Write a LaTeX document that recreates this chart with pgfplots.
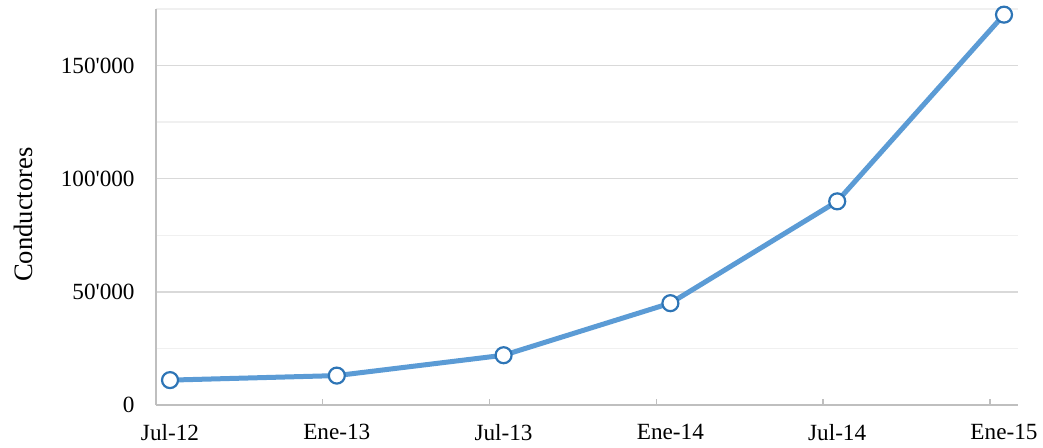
\documentclass[border=0pt]{standalone}
\usepackage{fontspec}
\setmainfont{Liberation Serif}
\usepackage{pgfplots}
\pgfplotsset{compat=1.18}

\definecolor{lineblue}{HTML}{5B9BD5}
\definecolor{markblue}{HTML}{2E75B6}
\definecolor{axisgray}{HTML}{BFBFBF}
\definecolor{majorgrid}{HTML}{D9D9D9}
\definecolor{minorgrid}{HTML}{F0F0F0}

\newcommand{\chartfont}{\fontsize{11.6}{14}\selectfont}
\newcommand{\labelfont}{\fontsize{13.3}{16}\selectfont}

\begin{document}
\chartfont
\begin{tikzpicture}
\begin{axis}[
  scale only axis,
  width=431pt, height=198pt,
  xmin=-0.084, xmax=5.084,
  ymin=0, ymax=175000,
  axis x line*=bottom,
  axis y line*=left,
  axis line style={draw=axisgray, line width=0.8pt, -},
  tick label style={font=\chartfont},
  label style={font=\labelfont},
  % ticks sit at the start of each half-year, labels under the data points
  xtick={-0.084,0.916,1.916,2.916,3.916,4.916},
  xticklabels={Jul-12,Ene-13,Jul-13,Ene-14,Jul-14,Ene-15},
  xticklabel style={anchor=north, inner sep=0pt, xshift=7pt, yshift=-9.5pt},
  xtick style={draw=axisgray, line width=0.7pt},
  tick align=inside,
  major tick length=3pt,
  minor tick length=0pt,
  ytick={0,50000,100000,150000},
  yticklabels={0,50\textquotesingle000,100\textquotesingle000,150\textquotesingle000},
  minor ytick={25000,75000,125000,175000},
  ytick style={draw=none},
  yticklabel style={anchor=east, inner sep=0pt, xshift=-10.5pt},
  scaled y ticks=false,
  ymajorgrids, yminorgrids,
  major grid style={draw=majorgrid, line width=0.75pt},
  minor grid style={draw=minorgrid, line width=0.75pt},
  ylabel={Conductores},
  ylabel style={at={(axis description cs:-0.1543,0.481)}, anchor=center},
  clip=false,
]
\addplot[color=lineblue, line width=2.5pt,
  mark=*, mark size=4pt,
  mark options={fill=white, draw=markblue, line width=1.1pt}]
  coordinates {
    (0,11000) (1,13000) (2,22000) (3,45000) (4,90000) (5,172500)
  };
\end{axis}
\pgfresetboundingbox
\path (current axis.south west) ++(-78pt,-21pt) rectangle ++(521.5pt,223.5pt);
\end{tikzpicture}
\end{document}
